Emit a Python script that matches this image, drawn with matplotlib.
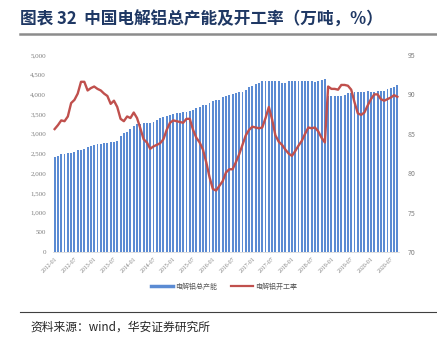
import numpy as np
import pandas as pd
import matplotlib
matplotlib.use("Agg")
import matplotlib.pyplot as plt
from matplotlib.lines import Line2D
from matplotlib.ticker import FuncFormatter

plt.rcParams['font.family'] = ['Noto Sans CJK SC', 'DejaVu Sans']

# monthly data 2012-01 .. 2020-09
months = pd.date_range('2012-01-01', periods=105, freq='MS').strftime('%Y-%m').tolist()

capacity = [2420, 2436, 2479, 2496, 2504, 2521, 2547, 2589, 2589, 2606, 2657, 2690, 2716,
            2733, 2741, 2758, 2775, 2800, 2800, 2826, 2944, 3029, 3054, 3113, 3198, 3249,
            3250, 3265, 3265, 3270, 3310, 3350, 3390, 3420, 3450, 3480, 3500, 3520, 3540,
            3550, 3560, 3580, 3600, 3650, 3690, 3730, 3730, 3770, 3820, 3860, 3860, 3940,
            3970, 3990, 4010, 4030, 4050, 4070, 4100, 4180, 4210, 4260, 4300, 4350, 4350,
            4340, 4330, 4330, 4330, 4300, 4300, 4330, 4350, 4350, 4350, 4350, 4350,
            4350, 4340, 4320, 4330, 4370, 4400, 3960,
            3960, 3960, 3960, 3960, 3985, 4027, 4044, 4061, 4061, 4069, 4069, 4075, 4069,
            4069, 4075, 4075, 4086, 4128, 4150, 4195, 4230]
capacity = capacity[:105]

utilization = [85.6, 86.1, 86.7, 86.6, 87.2, 88.9, 89.3, 90.1, 91.6, 91.6, 90.5, 90.8, 91.0,
               90.7, 90.5, 90.1, 89.8, 88.8, 89.2, 88.4, 86.9, 86.6, 87.2, 87.0, 87.7, 87.0,
               85.7,
               84.3, 83.9, 83.1, 83.4, 83.6, 83.8, 84.3, 85.5, 86.4, 86.7, 86.6, 86.5, 86.4,
               86.9, 86.9, 85.5, 84.5, 83.9, 83.0, 81.4, 79.5, 78.0, 77.8, 78.4, 79.0,
               80.1, 80.5, 80.5, 81.4, 82.4, 83.6, 84.8, 85.5, 85.9, 85.8, 85.7, 85.8, 87.0,
               88.4, 86.8, 84.8, 84.0, 83.6, 83.0, 82.5, 82.2, 82.8, 83.5, 84.1, 85.0, 85.8,
               85.7, 85.8, 85.3, 84.5, 83.9, 91.0, 90.7, 90.7, 90.6, 91.2, 91.2, 91.1, 90.6,
               89.0, 87.6, 87.4, 87.7, 88.6, 89.4, 90.0, 90.0, 89.4, 89.2, 89.4, 89.6, 89.9,
               89.7]

tick_labels = months[::6]

fig = plt.figure(figsize=(4.37, 3.44), dpi=100)
ax = fig.add_axes([53 / 437, 1 - 252 / 344, 346 / 437, 197 / 344])
ax2 = ax.twinx()

x = np.arange(len(capacity))
ax.bar(x, capacity, width=0.58, color='#5B8BD3', label='电解铝总产能', zorder=1)
ax2.plot(np.arange(len(utilization)), utilization, color='#C0504D', lw=1.7,
         label='电解铝开工率', zorder=3)

ax.set_xlim(-0.5, len(capacity) - 0.5)
ax.set_ylim(0, 5000)
ax.set_yticks(np.arange(0, 5001, 500))
ax.yaxis.set_major_formatter(FuncFormatter(lambda v, p: f'{int(v):,}'))
ax2.set_ylim(70, 95)
ax2.set_yticks(np.arange(70, 96, 5))

ax.set_xticks(x[::6])
ax.set_xticklabels(tick_labels, rotation=45, ha='right', rotation_mode='anchor',
                   fontsize=4.2, color='#7f7f7f', family='Liberation Serif')
ax.tick_params(axis='x', length=0, pad=3)
ax.tick_params(axis='y', length=0, pad=5, labelsize=5, labelcolor='#7f7f7f')
for lab in ax.get_yticklabels():
    lab.set_family('Liberation Serif')
ax2.tick_params(axis='y', length=0, pad=6, labelsize=5, labelcolor='#7f7f7f')

for a in (ax, ax2):
    for s in a.spines.values():
        s.set_visible(False)
ax.spines['bottom'].set_visible(True)
ax.spines['bottom'].set_color('#d9d9d9')
ax.spines['bottom'].set_linewidth(0.6)

handles = [Line2D([0], [0], color='#5B8BD3', lw=2.5), Line2D([0], [0], color='#C0504D', lw=1.6)]
fig.legend(handles, ['电解铝总产能', '电解铝开工率'], loc='center', bbox_to_anchor=(0.513, 0.166),
           ncol=2, frameon=False, fontsize=5, handlelength=3.2, columnspacing=2.0,
           labelcolor='#595959', handletextpad=0.3)

# header and footer
fig.text(20 / 437, 1 - 20 / 344, '图表 32  中国电解铝总产能及开工率（万吨，%）', fontsize=12,
         fontweight='bold', color='#1F3864', va='center', ha='left')
fig.add_artist(Line2D([20 / 437, 1.0], [1 - 34 / 344] * 2, color='#8c8c8c', lw=1.8))
fig.add_artist(Line2D([20 / 437, 1.0], [1 - 312 / 344] * 2, color='#404040', lw=0.8))
fig.text(30 / 437, 1 - 327 / 344, '资料来源：wind，华安证券研究所', fontsize=8.5,
         color='#262626', va='center', ha='left')

fig.savefig('out.png', dpi=100)
